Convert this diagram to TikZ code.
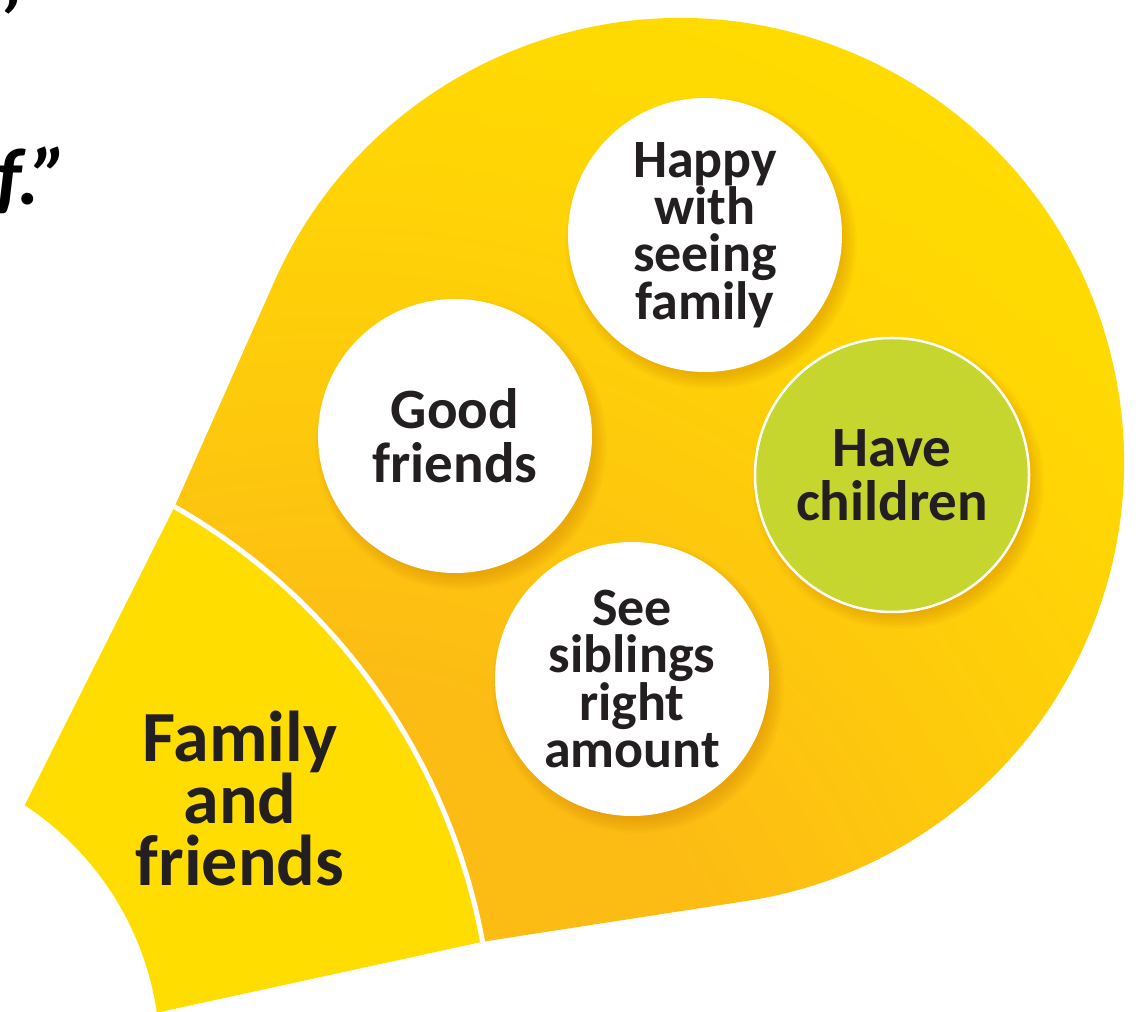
\documentclass[tikz,border=0pt]{standalone}
\usepackage{fontspec}
\setmainfont{Carlito}
\usetikzlibrary{calc}
\definecolor{ybright}{RGB}{255,221,0}
\definecolor{ylight}{RGB}{255,216,3}
\definecolor{ymid}{RGB}{254,204,11}
\definecolor{yorange}{RGB}{252,188,20}
\definecolor{leafgreen}{RGB}{198,214,46}
\definecolor{inkblack}{RGB}{35,31,32}
\definecolor{shadowcol}{RGB}{205,125,0}
\pgfdeclareradialshading{bulbrad}{\pgfpoint{0bp}{0bp}}{color(0bp)=(yorange); color(7bp)=(yorange); color(12.5bp)=(ymid); color(17bp)=(ylight); color(20.5bp)=(ybright); color(50bp)=(ybright)}
\begin{document}
\begin{tikzpicture}[x=1pt,y=1pt,
  bubble/.style={circle, fill=white, minimum size=274pt, inner sep=0pt, align=center, text=inkblack},
  smallfont/.style={font={\fontsize{54}{47}\selectfont\bfseries}},
  largefont/.style={font={\fontsize{57}{54}\selectfont\bfseries}},
  wedgefont/.style={font={\fontsize{72}{62}\selectfont\bfseries}},
  quotefont/.style={font={\fontsize{80}{80}\selectfont\bfseries\itshape}}]
\useasboundingbox (0,0) rectangle (1141,1012);
\coordinate (S) at (-140,-44);
\coordinate (C) at (680,550);
\coordinate (P) at ([shift={(S)}]60.2:633);
\coordinate (Q) at ([shift={(S)}]10.4:633);
\coordinate (T1) at ([shift={(C)}]156.25:444);
% big teardrop shape with gradient
\begin{scope}
\clip (P) -- (T1)
  arc[start angle=156.25, end angle=-81.25, radius=444]
  -- (Q)
  arc[start angle=10.4, end angle=60.2, radius=633] -- cycle;
\shade[shading=bulbrad] (330,-88) circle (1500);
\end{scope}
% wedge
\fill[ybright] ([shift={(S)}]56.7:300) -- (P)
  arc[start angle=60.2, end angle=10.4, radius=633]
  -- ([shift={(S)}]8.3:300)
  arc[start angle=8.3, end angle=56.7, radius=300] -- cycle;
\draw[white, line width=5] (P) arc[start angle=60.2, end angle=10.4, radius=633];
% circle centres
\coordinate (happyc) at (705,777);
\coordinate (goodc) at (455,576);
\coordinate (seec) at (632,333);
\coordinate (havec) at (892,537);
% soft shadows
\foreach \c in {happyc,goodc,seec,havec}{
  \foreach \k in {0,...,7}{
    \fill[shadowcol, opacity=0.05] ([shift={(6,-8)}]\c) circle ({146-2*\k});
  }
}
% circles
\node[bubble, smallfont] (happy) at (happyc) {Happy\\with\\seeing\\family};
\node[bubble, largefont] (good) at (goodc) {Good\\friends};
\node[bubble, smallfont] (see) at (seec) {See\\siblings\\right\\amount};
\node[bubble, largefont, fill=leafgreen, draw=white, line width=2.5] (have) at (havec) {Have\\children};
% wedge label
\node[wedgefont, align=center, text=inkblack] (family) at (240,213) {Family\\and\\friends};
% quote fragments
\node[quotefont, anchor=base west, inner sep=0, text=black] (quoteb) at (-4,807) {f.”};
\node[quotefont, anchor=base east, inner sep=0, text=black] (quotea) at (18,962) {’};
\end{tikzpicture}
\end{document}
